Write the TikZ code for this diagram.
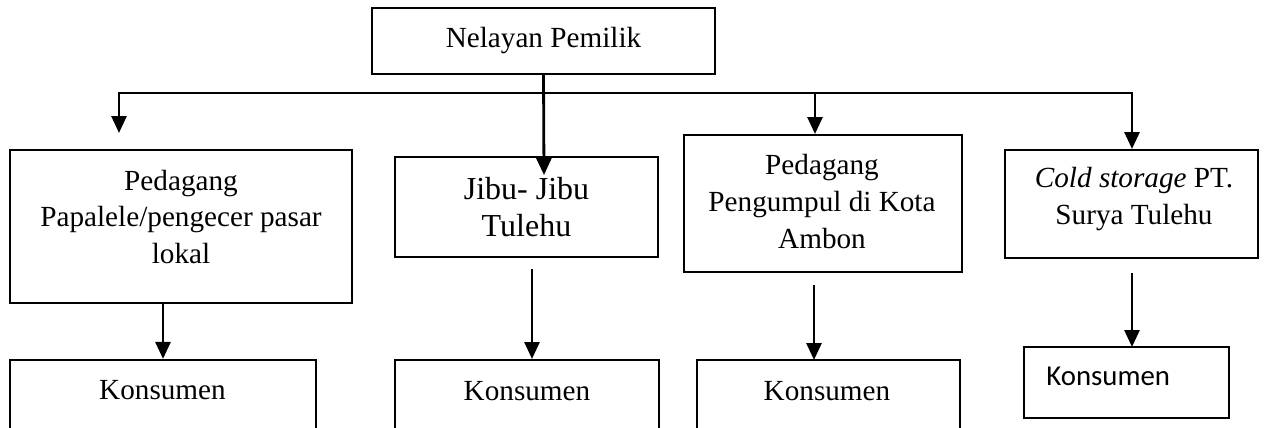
\documentclass[tikz,border=0pt]{standalone}
\usepackage{fontspec}
\setmainfont{Liberation Serif}
\newfontfamily\calib{Carlito}
\usetikzlibrary{arrows.meta}
\begin{document}
\begin{tikzpicture}[x=0.5pt,y=-0.5pt,
  box/.style={draw,line width=1.1pt,rectangle,inner sep=0pt},
  txt/.style={font=\fontsize{14.6pt}{18.25pt}\selectfont,align=center,inner sep=0pt},
  arr/.style={line width=1.4pt,-{Triangle[width=7.5pt,length=8.5pt]}},
  ln/.style={line width=1.4pt}]
\useasboundingbox (0,0) rectangle (1265,428);
\clip (0,0) rectangle (1265,428);
% top
\node[box,minimum width=171.5pt,minimum height=33pt] (top) at (543.5,41) {};
\node[txt] (ttop) at (543.5,41) {Nelayan Pemilik};
% middle boxes
\node[box,minimum width=171pt,minimum height=76.5pt] (b1) at (181,226.5) {};
\node[txt] (t1) at (181,217) {Pedagang\\Papalele/pengecer pasar\\lokal};
\node[box,minimum width=131.5pt,minimum height=50pt] (b2) at (526.5,207) {};
\node[txt,font=\fontsize{16pt}{18.5pt}\selectfont] (t2) at (526.5,207) {Jibu- Jibu\\Tulehu};
\node[box,minimum width=139pt,minimum height=68.5pt] (b3) at (823,203.5) {};
\node[txt,font=\fontsize{14.6pt}{18.5pt}\selectfont] (t3) at (822,202) {Pedagang\\Pengumpul di Kota\\Ambon};
\node[box,minimum width=126.5pt,minimum height=54pt] (b4) at (1131.5,204) {};
\node[txt] (t4) at (1134,199) {\textit{Cold storage} PT.\\Surya Tulehu};
% bottom boxes (cut at page edge)
\node[box,minimum width=153pt,minimum height=40pt] (k1) at (163,400) {};
\node[txt] (tk1) at (162.5,390) {Konsumen};
\node[box,minimum width=132pt,minimum height=40pt] (k2) at (527,400) {};
\node[txt] (tk2) at (527,391) {Konsumen};
\node[box,minimum width=131.5pt,minimum height=40pt] (k3) at (828.5,400) {};
\node[txt] (tk3) at (827,391) {Konsumen};
\node[box,minimum width=102.5pt,minimum height=35.5pt] (k4) at (1126.5,382.5) {};
\node[inner sep=0pt,anchor=base west,font=\calib\fontsize{14.4pt}{18pt}\selectfont] (tk4) at (1046,385) {Konsumen};
% connectors top
\coordinate (hub) at (544,93);
\coordinate (jt) at (544,175);
\coordinate (a1) at (119,133);
\coordinate (a3) at (815,134);
\coordinate (a4) at (1132,149);
\draw[arr] (top.south) -- (jt);
\draw[arr] (hub) -| (a1);
\draw[arr] (hub) -| (a3);
\draw[arr] (hub) -| (a4);
% connectors bottom
\coordinate (s2) at (532,269);
\coordinate (e2) at (532,359);
\coordinate (s3) at (814,285);
\coordinate (e3) at (814,360);
\coordinate (s4) at (1132,273);
\coordinate (e4) at (1132,347);
\draw[arr] (b1.south -| k1.north) -- (k1.north);
\draw[arr] (s2) -- (e2);
\draw[arr] (s3) -- (e3);
\draw[arr] (s4) -- (e4);
\end{tikzpicture}
\end{document}
